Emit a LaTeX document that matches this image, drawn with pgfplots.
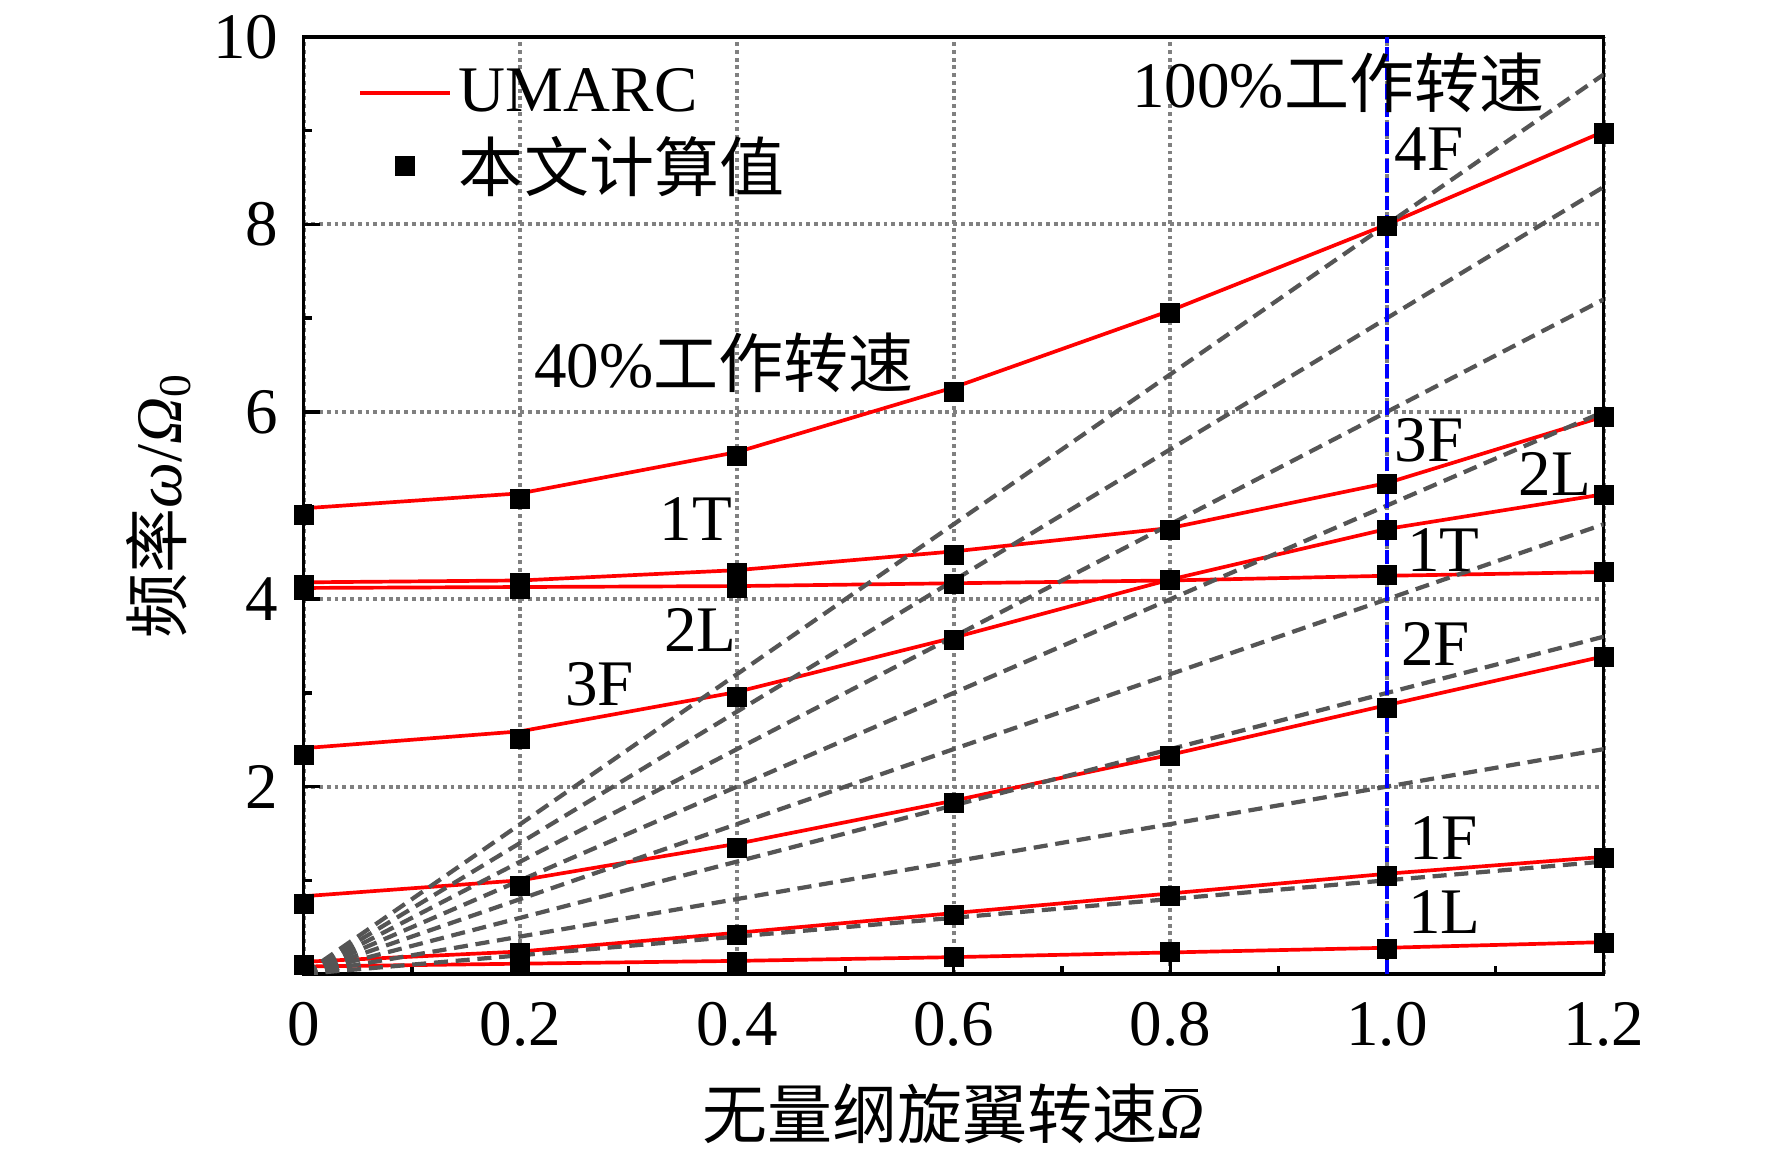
\documentclass[border=0pt]{standalone}
\usepackage{pgfplots}
\pgfplotsset{compat=1.18}
\usepackage{fontspec}
\setmainfont{Liberation Serif}
\newfontfamily\cjk{Noto Sans CJK SC}
\definecolor{gridgray}{RGB}{128,128,128}
\definecolor{dashgray}{RGB}{85,85,85}
\definecolor{ured}{RGB}{255,0,0}
\newcommand{\Obar}{\ooalign{\textit{Ω}\cr\hidewidth\raisebox{0.72em}{\rule{0.5em}{0.05em}}\hidewidth\cr}}
\newcommand{\fs}{\fontsize{18.5}{22}\selectfont}
\pgfplotsset{
  redlegend/.style={legend image code/.code={\draw[##1] (0cm,0cm) -- (0.9cm,0cm);}},
  marklegend/.style={legend image code/.code={\draw[##1] plot coordinates {(0.45cm,0cm)};}},
}
\begin{document}
\begin{tikzpicture}
\begin{axis}[name=ax, scale only axis, width=13.0cm, height=9.37cm,
  xmin=0, xmax=1.2, ymin=0, ymax=10,
  /pgf/number format/assume math mode=true,
  xtick={0,0.2,0.4,0.6,0.8,1.0,1.2},
  xticklabels={0,0.2,0.4,0.6,0.8,1.0,1.2},
  ytick={2,4,6,8,10},
  minor xtick={0.1,0.3,0.5,0.7,0.9,1.1},
  minor ytick={1,3,5,7,9},
  xtick pos=bottom, ytick pos=left,
  tick align=inside,
  major tick length=4.5pt, minor tick length=2.3pt,
  every tick/.style={black, line width=1pt},
  axis line style={line width=1pt},
  tick label style={font=\fs},
  yticklabel style={xshift=-0.13cm},
  xticklabel style={yshift=-0.16cm},
  grid=major,
  major grid style={gridgray, line width=1.1pt, dash pattern=on 1.1pt off 1.1pt},
  legend style={draw=none, fill=none, font=\fs, at={(axis cs:0.04,9.82)}, anchor=north west, row sep=0.05cm},
  legend cell align=left,
]
% UMARC lines
\addplot[ured, line width=1.05pt, redlegend]
  coordinates {(0,4.97)(0.2,5.13)(0.4,5.57)(0.6,6.26)(0.8,7.08)(1.0,8.00)(1.2,8.99)};
\addlegendentry{UMARC}
\addplot[only marks, mark=square*, mark size=2.65pt, black, marklegend]
  coordinates {(0,4.90)(0.2,5.07)(0.4,5.53)(0.6,6.21)(0.8,7.05)(1.0,7.98)(1.2,8.97)};
\addlegendentry{{\cjk 本文计算值}}
\addplot[ured, line width=1.05pt, forget plot]
  coordinates {(0,4.18)(0.2,4.20)(0.4,4.31)(0.6,4.51)(0.8,4.76)(1.0,5.24)(1.2,5.95)};
\addplot[ured, line width=1.05pt, forget plot]
  coordinates {(0,4.12)(0.2,4.13)(0.4,4.14)(0.6,4.17)(0.8,4.20)(1.0,4.25)(1.2,4.29)};
\addplot[ured, line width=1.05pt, forget plot]
  coordinates {(0,2.41)(0.2,2.59)(0.4,3.01)(0.6,3.59)(0.8,4.21)(1.0,4.75)(1.2,5.12)};
\addplot[ured, line width=1.05pt, forget plot]
  coordinates {(0,0.83)(0.2,1.00)(0.4,1.39)(0.6,1.85)(0.8,2.34)(1.0,2.87)(1.2,3.39)};
\addplot[ured, line width=1.05pt, forget plot]
  coordinates {(0,0.13)(0.2,0.24)(0.4,0.44)(0.6,0.65)(0.8,0.86)(1.0,1.07)(1.2,1.25)};
\addplot[ured, line width=1.05pt, forget plot]
  coordinates {(0,0.08)(0.2,0.11)(0.4,0.14)(0.6,0.18)(0.8,0.23)(1.0,0.28)(1.2,0.34)};
% computed values (markers)
\addplot[only marks, mark=square*, mark size=2.65pt, black, forget plot]
  coordinates {(0,4.15)(0.2,4.17)(0.4,4.28)(0.6,4.47)(0.8,4.74)(1.0,5.23)(1.2,5.94)};
\addplot[only marks, mark=square*, mark size=2.65pt, black, forget plot]
  coordinates {(0,4.10)(0.2,4.11)(0.4,4.12)(0.6,4.16)(0.8,4.20)(1.0,4.255)(1.2,4.29)};
\addplot[only marks, mark=square*, mark size=2.65pt, black, forget plot]
  coordinates {(0,2.34)(0.2,2.51)(0.4,2.96)(0.6,3.56)(0.8,4.20)(1.0,4.74)(1.2,5.11)};
\addplot[only marks, mark=square*, mark size=2.65pt, black, forget plot]
  coordinates {(0,0.75)(0.2,0.94)(0.4,1.34)(0.6,1.83)(0.8,2.33)(1.0,2.84)(1.2,3.385)};
\addplot[only marks, mark=square*, mark size=2.65pt, black, forget plot]
  coordinates {(0,0.10)(0.2,0.22)(0.4,0.42)(0.6,0.63)(0.8,0.83)(1.0,1.045)(1.2,1.24)};
\addplot[only marks, mark=square*, mark size=2.65pt, black, forget plot]
  coordinates {(0,0.10)(0.2,0.10)(0.4,0.13)(0.6,0.185)(0.8,0.23)(1.0,0.27)(1.2,0.334)};
% rotor speed harmonics k*Omega
\addplot[dashgray, line width=1.2pt, dash pattern=on 4pt off 2.2pt, forget plot] coordinates {(0,0)(1.2,1.2)};
\addplot[dashgray, line width=1.2pt, dash pattern=on 4pt off 2.2pt, forget plot] coordinates {(0,0)(1.2,2.4)};
\addplot[dashgray, line width=1.2pt, dash pattern=on 4pt off 2.2pt, forget plot] coordinates {(0,0)(1.2,3.6)};
\addplot[dashgray, line width=1.2pt, dash pattern=on 4pt off 2.2pt, forget plot] coordinates {(0,0)(1.2,4.8)};
\addplot[dashgray, line width=1.2pt, dash pattern=on 4pt off 2.2pt, forget plot] coordinates {(0,0)(1.2,6.0)};
\addplot[dashgray, line width=1.2pt, dash pattern=on 4pt off 2.2pt, forget plot] coordinates {(0,0)(1.2,7.2)};
\addplot[dashgray, line width=1.2pt, dash pattern=on 4pt off 2.2pt, forget plot] coordinates {(0,0)(1.2,8.4)};
\addplot[dashgray, line width=1.2pt, dash pattern=on 4pt off 2.2pt, forget plot] coordinates {(0,0)(1.2,9.6)};
% 100% rotor speed
\addplot[blue, line width=0.9pt, dash pattern=on 4pt off 1.3pt, forget plot] coordinates {(1.0,0)(1.0,10)};
% annotations
\node[font=\fs] at (axis cs:0.955,9.51) {100\%{\cjk 工作转速}};
\node[font=\fs] at (axis cs:0.388,6.52) {40\%{\cjk 工作转速}};
\node[font=\fs] at (axis cs:1.039,8.80) {4F};
\node[font=\fs] at (axis cs:0.362,4.855) {1T};
\node[font=\fs] at (axis cs:0.366,3.67) {2L};
\node[font=\fs] at (axis cs:0.273,3.095) {3F};
\node[font=\fs] at (axis cs:1.039,5.70) {3F};
\node[font=\fs] at (axis cs:1.155,5.34) {2L};
\node[font=\fs] at (axis cs:1.052,4.53) {1T};
\node[font=\fs] at (axis cs:1.045,3.52) {2F};
\node[font=\fs] at (axis cs:1.052,1.45) {1F};
\node[font=\fs] at (axis cs:1.053,0.66) {1L};
\end{axis}
\node[font=\fs] at ([yshift=-1.40cm]ax.south) {{\cjk 无量纲旋翼转速}\Obar};
\node[font=\fs, rotate=90] at ([xshift=-1.45cm]ax.west) {{\cjk 频率}\textit{ω}/\textit{Ω}\textsubscript{0}};
\pgfresetboundingbox
\path (ax.south west) ++(-3.037cm,-1.83cm) rectangle ++(17.72cm,11.57cm);
\end{tikzpicture}
\end{document}
